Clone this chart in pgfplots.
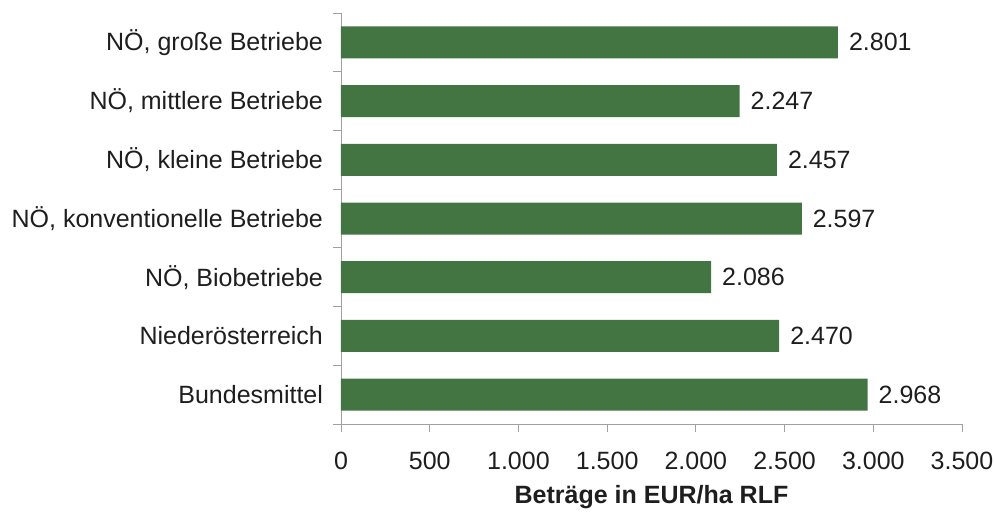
\documentclass[border=0pt]{standalone}
\usepackage{fontspec}
\setmainfont{Liberation Sans}
\usepackage{pgfplots}
\pgfplotsset{compat=1.18}
\definecolor{barGreen}{RGB}{67,117,66}
\definecolor{axisGray}{RGB}{160,160,160}
\definecolor{txt}{RGB}{30,30,30}
\begin{document}
\begin{tikzpicture}
  \begin{axis}[
      xbar,
      scale only axis,
      width=310.5pt,
      height=205.5pt,
      xmin=0, xmax=3500,
      ymin=-0.5, ymax=6.5,
      bar width=16pt,
      axis lines*=left,
      axis line style={axisGray},
      tick style={axisGray, thin},
      tick align=outside,
      major tick length=4pt,
      minor tick length=4pt,
      xtick={0,500,...,3500},
      ytick={0,...,6},
      yticklabels={Bundesmittel, Niederösterreich, {NÖ, Biobetriebe},
        {NÖ, konventionelle Betriebe}, {NÖ, kleine Betriebe},
        {NÖ, mittlere Betriebe}, {NÖ, große Betriebe}},
      major y tick style={draw=none},
      minor ytick={-0.5,0.5,...,6.5},
      style={/pgf/number format/assume math mode=true},
      /pgf/number format/.cd, fixed, precision=0, 1000 sep={.}, dec sep={,},
      /pgfplots/.cd,
      ticklabel style={font=\fontsize{12.5}{14}\selectfont, text=txt},
      yticklabel style={xshift=-1.5pt},
      xticklabel style={yshift=-6.5pt},
      xlabel={\textbf{Beträge in EUR/ha RLF}},
      xlabel style={font=\fontsize{12.5}{14}\selectfont, text=txt, yshift=-1pt},
      nodes near coords,
      nodes near coords style={font=\fontsize{12.5}{14}\selectfont, text=txt,
        anchor=west, xshift=2pt,
        /pgf/number format/.cd, fixed, precision=0, 1000 sep={.}},
    ]
    \addplot[fill=barGreen, draw=none] coordinates {
      (2968,0) (2470,1) (2086,2) (2597,3) (2457,4) (2247,5) (2801,6)
    };
  \end{axis}
  \pgfresetboundingbox
  \useasboundingbox (-170.5pt,-43.5pt) rectangle (326.5pt,212pt);
\end{tikzpicture}
\end{document}
